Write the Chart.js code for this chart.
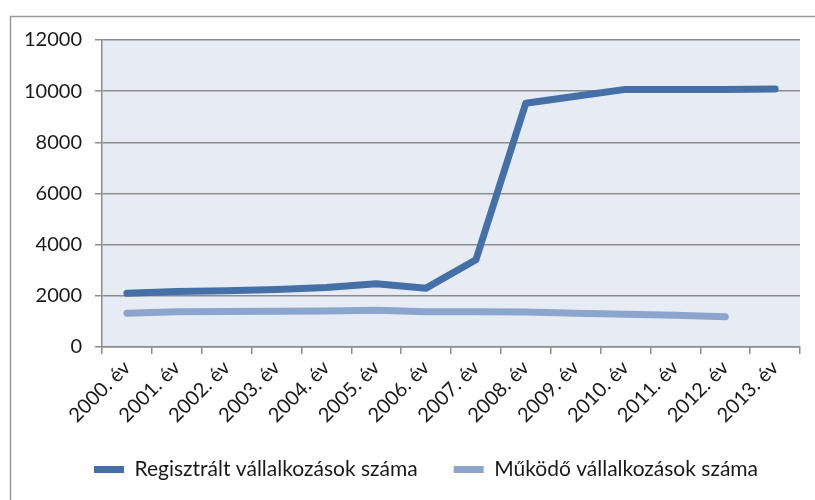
<!DOCTYPE html>
<html>
<head>
<meta charset="utf-8">
<script src="https://cdn.jsdelivr.net/npm/chart.js@4/dist/chart.umd.min.js"></script>
<style>
  body { margin: 0; background: #fff; }
  #wrap { width: 815px; height: 500px; }
</style>
</head>
<body>
<div id="wrap"><canvas id="vallChart" width="815" height="500"></canvas></div>
<script>
// Adatok
const evek = ['2000. év', '2001. év', '2002. év', '2003. év', '2004. év', '2005. év', '2006. év',
              '2007. év', '2008. év', '2009. év', '2010. év', '2011. év', '2012. év', '2013. év'];
const regisztralt = [2100, 2170, 2200, 2250, 2330, 2470, 2300, 3410, 9530, 9800, 10070, 10070, 10070, 10080];
const mukodo = [1320, 1380, 1390, 1400, 1410, 1440, 1380, 1380, 1370, 1320, 1280, 1240, 1180, null];
const yTicks = [0, 2000, 4000, 6000, 8000, 10000, 12000];

const szurke = '#8c8c8c';
const betu = { family: 'Lato, "Open Sans", sans-serif', size: 20 };

// keret + háttér rajzolása, jelmagyarázat kicsit jobbra
const keretPlugin = {
    id: 'keret',
    beforeDraw(chart) {
        const c = chart.ctx;
        const a = chart.chartArea;
        if (chart.legend) {
            chart.legend.left = 52;
            chart.legend.adjustHitBoxes();
        }
        c.save();
        c.fillStyle = '#e7ecf4';
        c.fillRect(a.left, a.top, a.right - a.left, a.bottom - a.top);
        c.strokeStyle = '#9a9a9a';
        c.lineWidth = 1.5;
        c.beginPath();
        c.moveTo(10.5, 500);
        c.lineTo(10.5, 16.5);
        c.lineTo(815, 16.5);
        c.stroke();
        c.restore();
    }
};

const ctx = document.getElementById('vallChart').getContext('2d');
const chart = new Chart(ctx, {
    type: 'line',
    data: {
        labels: evek,
        datasets: [{
            label: 'Regisztrált vállalkozások száma',
            data: regisztralt,
            borderColor: '#4470a7',
            backgroundColor: '#4470a7',
            borderWidth: 7,
            borderCapStyle: 'round',
            borderJoinStyle: 'round',
            pointRadius: 0,
            tension: 0
        }, {
            label: 'Működő vállalkozások száma',
            data: mukodo,
            borderColor: '#8ca5cd',
            backgroundColor: '#8ca5cd',
            borderWidth: 7,
            borderCapStyle: 'round',
            borderJoinStyle: 'round',
            pointRadius: 0,
            tension: 0
        }]
    },
    options: {
        responsive: false,
        animation: false,
        layout: { padding: { left: 12, right: 15, top: 40, bottom: 10 } },
        scales: {
            x: {
                offset: true,
                grid: { offset: true, drawOnChartArea: false, color: szurke, tickLength: 7, lineWidth: 1.5 },
                border: { color: szurke, width: 1.5 },
                ticks: { font: betu, color: '#1a1a1a', maxRotation: 45, minRotation: 45, padding: 2 },
                afterFit(s) { s.height = 76; }
            },
            y: {
                min: 0,
                max: 12000,
                afterBuildTicks(s) { s.ticks = yTicks.map(v => ({ value: v })); },
                grid: { color: szurke, tickLength: 7, lineWidth: 1.5 },
                border: { color: szurke, width: 1.5 },
                ticks: { font: betu, color: '#1a1a1a', padding: 13, callback: v => String(v) },
                afterFit(s) { s.width = 90; }
            }
        },
        plugins: {
            legend: {
                position: 'bottom',
                labels: {
                    font: { family: betu.family, size: 21 },
                    color: '#1a1a1a',
                    usePointStyle: true,
                    pointStyle: 'line',
                    pointStyleWidth: 30,
                    boxHeight: 20,
                    padding: 36
                }
            },
            tooltip: { enabled: false }
        }
    },
    plugins: [keretPlugin]
});
</script>
</body>
</html>
